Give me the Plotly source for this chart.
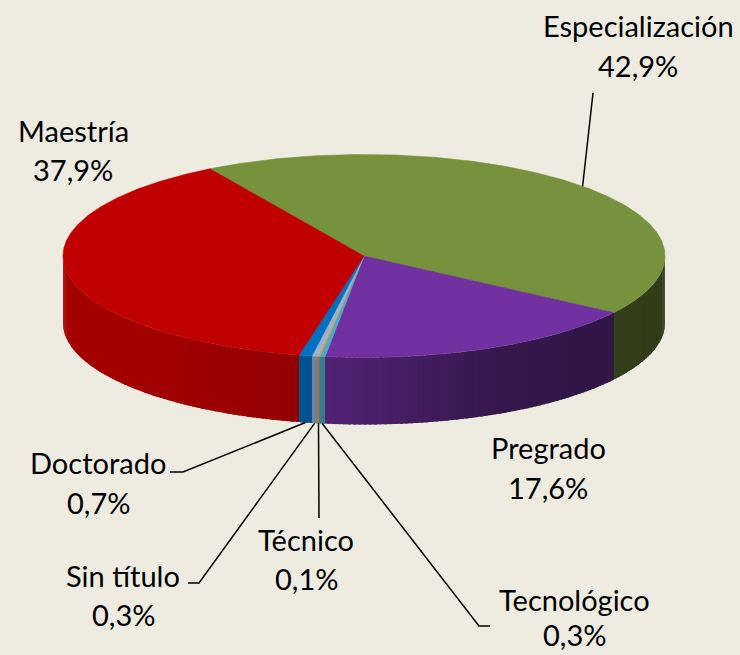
import numpy as np
import plotly.graph_objects as go

# ---------------- data ----------------
categories = ["Especialización", "Pregrado", "Tecnológico", "Técnico", "Sin título", "Doctorado", "Maestría"]
values = [42.9, 17.6, 0.3, 0.1, 0.3, 0.7, 37.9]
value_labels = ["42,9%", "17,6%", "0,3%", "0,1%", "0,3%", "0,7%", "37,9%"]
colors = ["#76923C", "#7030A0", "#4BACC6", "#F79646", "#95B3D7", "#0070C0", "#C00000"]

# ---------------- geometry / style ----------------
W, H = 740, 655
CX, CY, A, B, DEPTH = 364, 256, 301, 101.5, 67
START = -30.8           # angle of first slice (deg, clockwise from 12 o'clock)
BG = "#EEECE1"
FONT = "Lato"
FS = 29

total = sum(values)
spans = [v / total * 360.0 for v in values]
starts = [START + sum(spans[:i]) for i in range(len(spans))]
ends = [s + sp for s, sp in zip(starts, spans)]


def ell(t_deg, dy=0.0):
    t = np.radians(t_deg)
    return CX + A * np.sin(t), CY - B * np.cos(t) + dy


def hex2rgb(h):
    h = h.lstrip("#")
    return [int(h[i:i + 2], 16) for i in (0, 2, 4)]


def shade(col, f):
    r, g, b = hex2rgb(col)
    return "rgb(%d,%d,%d)" % (round(r * f), round(g * f), round(b * f))


shade_x = [-1.0, -0.7, -0.28, -0.12, 0.45, 1.0]
shade_f = [0.86, 0.84, 0.78, 0.72, 0.48, 0.41]

fig = go.Figure()

# ---------------- side walls (front half only) ----------------
STEP, EXT = 1.0, 0.6
for s, e, col in zip(starts, ends, colors):
    lo, hi = max(s, 90.0), min(e, 270.0)
    if hi <= lo:
        continue
    n = max(1, int(np.ceil((hi - lo) / STEP)))
    edges = np.linspace(lo, hi, n + 1)
    for t0, t1 in zip(edges[:-1], edges[1:]):
        t1e = min(t1 + EXT, 270.0)
        ts = np.linspace(t0, t1e, 4)
        xt, yt = ell(ts)
        xb, yb = ell(ts[::-1], DEPTH)
        xs = np.concatenate([xt, xb, xt[:1]])
        ys = np.concatenate([yt, yb, yt[:1]])
        f = float(np.interp(np.sin(np.radians((t0 + t1) / 2)), shade_x, shade_f))
        c = shade(col, f)
        fig.add_trace(go.Scatter(x=xs, y=ys, mode="lines", fill="toself",
                                 fillcolor=c, line=dict(width=0),
                                 hoverinfo="skip", showlegend=False))

# ---------------- top faces ----------------
for cat, s, e, col in zip(categories, starts, ends, colors):
    ts = np.linspace(s, e, max(3, int((e - s) * 2) + 2))
    xa, ya = ell(ts)
    xs = np.concatenate([[CX], xa, [CX]])
    ys = np.concatenate([[CY], ya, [CY]])
    fig.add_trace(go.Scatter(x=xs, y=ys, mode="lines", fill="toself",
                             fillcolor=col, line=dict(color=col, width=0.6),
                             name=cat, hoverinfo="skip", showlegend=False))

# ---------------- labels ----------------
label_pos = {
    "Especialización": (638, 25, 65),
    "Pregrado": (548, 447, 487),
    "Tecnológico": (574, 599, 634),
    "Técnico": (306, 539, 578),
    "Sin título": (123, 575, 614),
    "Doctorado": (98, 462, 502),
    "Maestría": (73, 130, 169),
}
for cat, vl in zip(categories, value_labels):
    x, y1, y2 = label_pos[cat]
    for txt, yy in ((cat, y1), (vl, y2)):
        fig.add_annotation(x=x, y=yy, text=txt, showarrow=False,
                           xanchor="center", yanchor="middle",
                           font=dict(family=FONT, size=FS, color="black"))

# ---------------- leader lines ----------------
leader_start = {
    "Especialización": [(593, 93)],
    "Doctorado": [(170, 472), (183, 472)],
    "Sin título": [(188, 583), (199, 583)],
    "Técnico": [(319, 518)],
    "Tecnológico": [(490, 626), (479, 626)],
}
for cat, s, e in zip(categories, starts, ends):
    if cat not in leader_start:
        continue
    mid = (s + e) / 2
    if cat == "Especialización":
        ex, ey = ell(mid)
    else:
        ex, ey = ell(mid, DEPTH)
    pts = leader_start[cat] + [(float(ex), float(ey))]
    fig.add_trace(go.Scatter(x=[p[0] for p in pts], y=[p[1] for p in pts],
                             mode="lines", line=dict(color="black", width=1.5),
                             hoverinfo="skip", showlegend=False))

fig.update_layout(
    width=W, height=H, autosize=False,
    margin=dict(l=0, r=0, t=0, b=0),
    paper_bgcolor=BG, plot_bgcolor=BG,
    xaxis=dict(range=[0, W], visible=False, fixedrange=True),
    yaxis=dict(range=[H, 0], visible=False, fixedrange=True),
    font=dict(family=FONT),
)

fig.write_html("out.html", config={"displayModeBar": False},
               post_script="document.body.style.margin='0';document.body.style.overflow='hidden';")
